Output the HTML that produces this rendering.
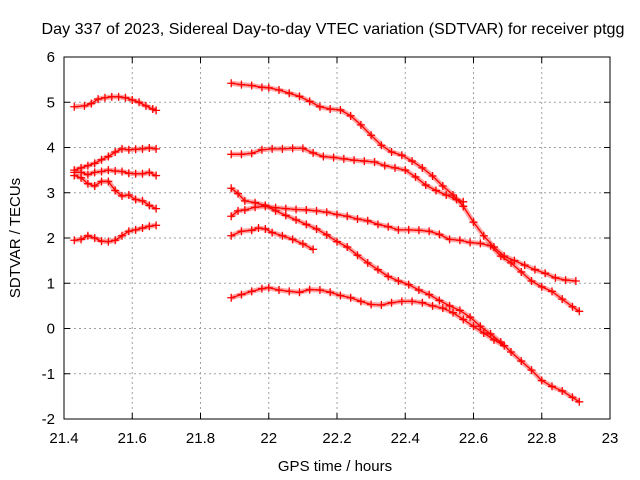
<!DOCTYPE html>
<html><head><meta charset="utf-8"><style>
body{margin:0;background:#fff;}
svg{display:block;font-family:"Liberation Sans",sans-serif;}
</style></head><body>
<svg id="chart" width="640" height="480" viewBox="0 0 640 480" xmlns="http://www.w3.org/2000/svg">
<rect width="640" height="480" fill="#fff"/>
<g id="grid"></g>
<g id="series"></g>
<g id="axes"></g>
<text x="333" y="34" font-size="16" text-anchor="middle" textLength="583" lengthAdjust="spacingAndGlyphs">Day 337 of 2023, Sidereal Day-to-day VTEC variation (SDTVAR) for receiver ptgg</text>
<text x="335" y="471" font-size="15" text-anchor="middle">GPS time / hours</text>
<text x="20" y="238" font-size="15" text-anchor="middle" transform="rotate(-90 20 238)">SDTVAR / TECUs</text>
</svg>
<script>
const xTicks=[21.4,21.6,21.8,22,22.2,22.4,22.6,22.8,23];
const xTickLabels=["21.4","21.6","21.8","22","22.2","22.4","22.6","22.8","23"];
const yTicks=[-2,-1,0,1,2,3,4,5,6];
const yTickLabels=["-2","-1","0","1","2","3","4","5","6"];
const s1t=[21.43,21.46,21.48,21.5,21.52,21.54,21.56,21.58,21.6,21.62,21.64,21.66,21.67];
const s1v=[4.9,4.92,4.97,5.07,5.1,5.12,5.12,5.1,5.05,5.0,4.92,4.85,4.82];
const s2t=[21.43,21.45,21.47,21.49,21.51,21.53,21.55,21.57,21.59,21.61,21.63,21.65,21.67];
const s2v=[3.5,3.55,3.6,3.65,3.73,3.8,3.9,3.97,3.95,3.96,3.97,3.99,3.97];
const s3v=[3.45,3.45,3.4,3.45,3.47,3.5,3.48,3.47,3.43,3.42,3.42,3.45,3.38];
const s4v=[3.38,3.33,3.2,3.15,3.25,3.25,3.05,2.93,2.95,2.85,2.82,2.72,2.65];
const s5v=[1.95,1.97,2.05,2.0,1.93,1.92,1.95,2.05,2.15,2.18,2.22,2.26,2.28];
const aT=[21.89,21.92,21.95,21.98,22.0,22.03,22.06,22.09,22.12,22.15,22.18,22.21,22.24,22.27,22.3,22.33,22.36,22.39,22.42,22.45,22.48,22.51,22.54,22.57,22.6,22.63,22.66,22.69,22.72,22.75,22.78,22.81,22.84,22.87,22.9];
const aV=[5.42,5.39,5.37,5.33,5.32,5.27,5.2,5.13,5.02,4.9,4.85,4.83,4.7,4.5,4.27,4.05,3.9,3.83,3.7,3.55,3.37,3.15,2.95,2.7,2.35,2.05,1.8,1.6,1.5,1.4,1.3,1.22,1.12,1.07,1.05];
const bT=[21.89,21.92,21.95,21.98,22.01,22.04,22.07,22.1,22.13,22.16,22.19,22.22,22.25,22.28,22.31,22.34,22.37,22.4,22.43,22.46,22.49,22.52,22.55,22.57];
const bV=[3.85,3.85,3.87,3.95,3.97,3.97,3.98,3.98,3.88,3.8,3.78,3.75,3.72,3.7,3.68,3.6,3.55,3.5,3.35,3.17,3.05,2.95,2.85,2.8];
const cT=[21.89,21.91,21.93,21.96,21.99,22.02,22.05,22.08,22.11,22.14,22.17,22.2,22.23,22.26,22.29,22.32,22.35,22.38,22.41,22.44,22.47,22.5,22.53,22.56,22.59,22.62,22.65,22.68,22.71,22.74,22.77,22.8,22.83,22.86,22.89,22.91];
const cV=[2.48,2.6,2.62,2.68,2.7,2.67,2.65,2.63,2.62,2.6,2.57,2.52,2.48,2.42,2.38,2.3,2.25,2.18,2.18,2.17,2.15,2.08,1.97,1.95,1.9,1.88,1.83,1.6,1.45,1.25,1.05,0.92,0.82,0.65,0.48,0.38];
const dT=[21.89,21.91,21.93,21.96,21.99,22.02,22.05,22.08,22.11,22.14,22.17,22.2,22.23,22.26,22.29,22.32,22.35,22.38,22.41,22.44,22.47,22.5,22.53,22.56,22.59,22.62,22.65,22.68,22.71,22.74,22.77,22.8,22.83,22.86,22.89,22.91];
const dV=[3.1,2.98,2.82,2.78,2.72,2.6,2.5,2.4,2.3,2.2,2.07,1.92,1.8,1.62,1.45,1.3,1.15,1.05,0.97,0.85,0.75,0.62,0.5,0.4,0.25,0.05,-0.12,-0.3,-0.52,-0.72,-0.92,-1.15,-1.28,-1.38,-1.52,-1.62];
const eT=[21.89,21.92,21.95,21.98,22.0,22.03,22.06,22.09,22.12,22.15,22.18,22.21,22.24,22.27,22.3,22.33,22.36,22.39,22.42,22.45,22.48,22.51,22.54,22.57,22.6,22.63,22.66,22.69];
const eV=[0.68,0.75,0.82,0.88,0.9,0.85,0.82,0.8,0.86,0.85,0.8,0.73,0.68,0.6,0.53,0.52,0.57,0.6,0.6,0.57,0.5,0.45,0.35,0.2,0.05,-0.1,-0.25,-0.38];
const fT=[21.89,21.92,21.95,21.97,21.99,22.01,22.04,22.07,22.1,22.13];
const fV=[2.05,2.15,2.17,2.22,2.2,2.12,2.05,1.97,1.87,1.75];

const L=64,R=610,T=57,B=419;
function X(t){return L+(t-21.4)/(23-21.4)*(R-L);}
function Y(v){return B-(v+2)/8*(B-T);}
const NS="http://www.w3.org/2000/svg";
function mk(tag,attrs,parent){const e=document.createElementNS(NS,tag);for(const k in attrs)e.setAttribute(k,attrs[k]);parent.appendChild(e);return e;}
const grid=document.getElementById('grid'),axes=document.getElementById('axes'),ser=document.getElementById('series');
xTicks.forEach((t,i)=>{const x=X(t);
 if(i>0&&i<xTicks.length-1){const g=mk('line',{x1:x,x2:x,y1:T,y2:B,stroke:'#a0a0a0','stroke-dasharray':'2,3'},grid);
 
 }
 mk('line',{x1:x,x2:x,y1:B,y2:B-6,stroke:'#000'},axes);
 mk('line',{x1:x,x2:x,y1:T,y2:T+6,stroke:'#000'},axes);
 const lb=mk('text',{x:x,y:B+24,'font-size':15,'text-anchor':'middle'},axes);lb.textContent=xTickLabels[i];
 
 
});
yTicks.forEach((v,i)=>{const y=Y(v);
 if(i>0&&i<yTicks.length-1){const g=mk('line',{x1:L,x2:R,y1:y,y2:y,stroke:'#a0a0a0','stroke-dasharray':'2,3'},grid);
 
 }
 mk('line',{x1:L,x2:L+6,y1:y,y2:y,stroke:'#000'},axes);
 mk('line',{x1:R,x2:R-6,y1:y,y2:y,stroke:'#000'},axes);
 const lb=mk('text',{x:L-9,y:y+5,'font-size':15,'text-anchor':'end'},axes);lb.textContent=yTickLabels[i];
 
 
});
const fr=mk('rect',{x:L,y:T,width:R-L,height:B-T,fill:'none',stroke:'#000','stroke-width':1},axes);


const all=[[s1t,s1v],[s2t,s2v],[s2t,s3v],[s2t,s4v],[s2t,s5v],[aT,aV],[bT,bV],[cT,cV],[dT,dV],[eT,eV],[fT,fV]];
all.forEach((s,k)=>{let d='',ln='';
 s[0].forEach((t,i)=>{const x=X(t),y=Y(s[1][i]);d+=`M${x-4},${y}h8M${x},${y-4}v8`;ln+=(i?'L':'M')+x+','+y;});
 const band=mk('path',{d:ln,stroke:'#ff0000','stroke-width':5,fill:'none','stroke-opacity':0.35,'stroke-linejoin':'round'},ser);
 
 
 const trace=mk('path',{d:ln,stroke:'#ff0000','stroke-width':1.3,fill:'none'},ser);
 
 
 const p=mk('path',{d:d,stroke:'#ff0000','stroke-width':1.3,fill:'none'},ser);
 
 
});
</script>
</body></html>
